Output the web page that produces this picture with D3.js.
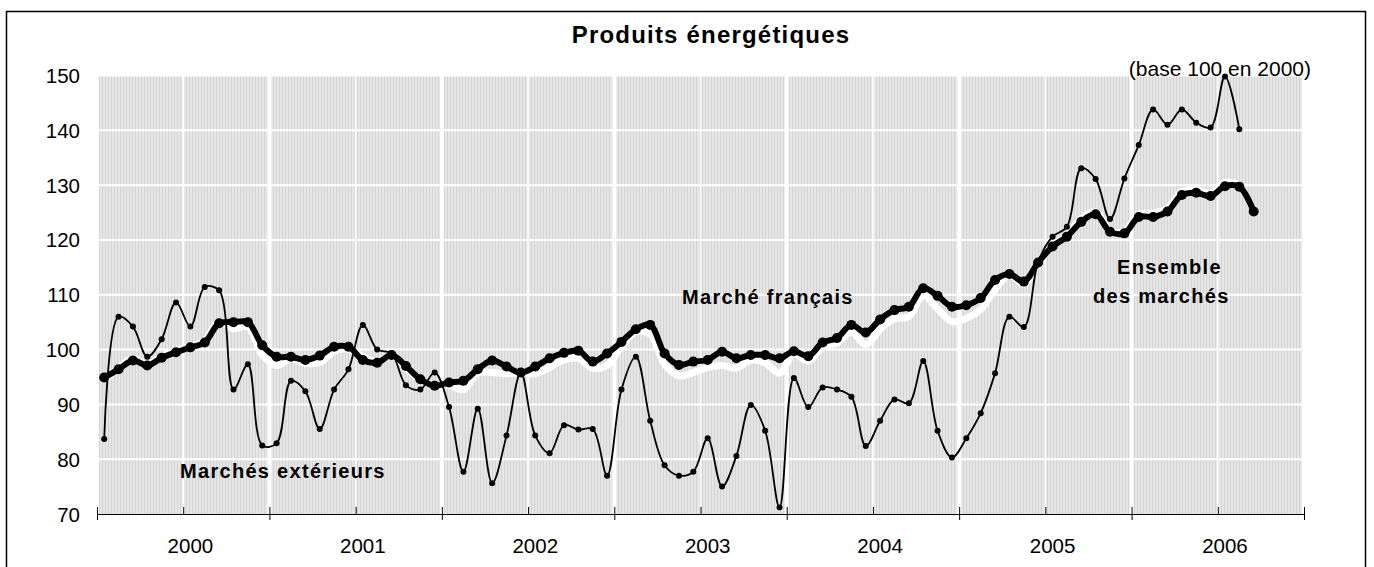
<!DOCTYPE html>
<html>
<head>
<meta charset="UTF-8">
<title>Produits énergétiques</title>
<style>
  body { margin: 0; background: #fff; }
  svg text { font-family: "Liberation Sans", Arial, sans-serif; fill: #000; }
</style>
</head>
<body>
<div id="chart"></div>
<script src="https://d3js.org/d3.v7.min.js"></script>
<script>
// years on the category axis (12 monthly points each, Jan 2000 -> ...)
var years = ["2000", "2001", "2002", "2003", "2004", "2005", "2006"];
var yTicks = [70, 80, 90, 100, 110, 120, 130, 140, 150];

// thin line with small dots
var marchesExterieurs = [
  83.7, 106.0, 104.2, 98.7, 101.9, 108.6, 104.2, 111.4, 110.8, 92.7,
  97.3, 82.5, 82.9, 94.3, 92.4, 85.5, 92.7, 96.4, 104.5, 100.0,
  99.3, 93.5, 92.7, 95.8, 89.5, 77.7, 89.2, 75.6, 84.3, 95.8,
  84.3, 81.1, 86.2, 85.4, 85.5, 77.0, 92.7, 98.7, 87.0, 78.9,
  77.0, 77.7, 83.8, 75.0, 80.6, 89.9, 85.2, 71.2, 94.8, 89.5,
  93.1, 92.7, 91.4, 82.4, 87.0, 90.9, 90.2, 97.9, 85.2, 80.3,
  83.8, 88.4, 95.7, 106.0, 104.1, 116.0, 120.6, 122.4, 133.1, 131.1,
  123.8, 131.2, 137.3, 143.8, 141.0, 143.8, 141.4, 140.5, 149.8, 140.2
];
// thick black line with big dots
var marcheFrancais = [
  94.9, 96.4, 98.0, 97.1, 98.5, 99.5, 100.4, 101.3, 104.8, 105.0,
  105.0, 100.8, 98.7, 98.7, 98.1, 98.9, 100.5, 100.5, 98.1, 97.6,
  99.0, 97.0, 94.6, 93.4, 94.0, 94.3, 96.4, 98.0, 96.9, 95.8,
  96.9, 98.4, 99.4, 99.8, 97.8, 99.3, 101.4, 103.7, 104.5, 99.3,
  97.2, 97.8, 98.1, 99.6, 98.4, 99.0, 99.0, 98.4, 99.7, 98.8,
  101.3, 102.1, 104.5, 103.1, 105.5, 107.2, 107.8, 111.2, 109.8, 107.8,
  108.1, 109.4, 112.7, 113.8, 112.4, 115.9, 118.8, 120.6, 123.3, 124.7,
  121.5, 121.2, 124.2, 124.2, 125.2, 128.2, 128.6, 128.0, 129.8, 129.7,
  125.2
];
// thick white line
var ensembleMarches = [
  94.3, 96.7, 98.4, 97.3, 98.7, 99.9, 100.6, 101.7, 105.1, 103.8,
  104.2, 99.0, 97.1, 98.3, 97.5, 97.6, 99.7, 100.1, 98.7, 97.8,
  99.0, 96.6, 94.5, 93.4, 93.5, 92.7, 95.7, 95.8, 95.6, 95.8,
  95.6, 96.7, 98.1, 98.4, 96.6, 97.1, 100.5, 103.2, 102.8, 97.3,
  95.2, 95.8, 96.7, 97.1, 96.6, 98.1, 97.6, 95.7, 99.2, 97.9,
  100.5, 101.2, 103.2, 100.9, 103.7, 105.6, 106.0, 109.8, 107.4, 105.1,
  105.7, 107.3, 111.0, 113.6, 112.0, 115.9, 119.0, 120.8, 123.9, 125.1,
  121.7, 121.6, 124.7, 124.9, 125.8, 128.8, 129.1, 128.5, 130.5, 130.1
];

var width = 1374, height = 567;
var plot = { left: 97, right: 1304, top: 75.5, bottom: 514 };
var nMonths = years.length * 12;

var svg = d3.select("#chart").append("svg")
  .attr("width", width)
  .attr("height", height);

var x = d3.scaleLinear().domain([0, nMonths]).range([plot.left, plot.right]);
var y = d3.scaleLinear().domain([70, 150]).range([plot.bottom, plot.top]);

// monthly point sits in the middle of its category slot
var px = function(d, i) { return x(i + 0.5); };
var py = function(d) { return y(d); };

// hatched grey background
var defs = svg.append("defs");
var pat = defs.append("pattern")
  .attr("id", "hatch")
  .attr("patternUnits", "userSpaceOnUse")
  .attr("width", 3).attr("height", 6);
pat.append("rect").attr("width", 3).attr("height", 6).attr("fill", "#e6e6e6");
pat.append("rect").attr("width", 1).attr("height", 6).attr("fill", "#d3d3d3");

// frame
svg.append("rect")
  .attr("x", 6.5).attr("y", 11.5)
  .attr("width", 1359).attr("height", 560)
  .attr("fill", "none").attr("stroke", "#000").attr("stroke-width", 1.5);

svg.append("rect")
  .attr("x", plot.left).attr("y", plot.top)
  .attr("width", plot.right - plot.left).attr("height", plot.bottom - plot.top)
  .attr("fill", "url(#hatch)");

// white grid
svg.append("g").selectAll("line")
  .data(yTicks.slice(1))
  .join("line")
  .attr("x1", plot.left).attr("x2", plot.right)
  .attr("y1", y).attr("y2", y)
  .attr("stroke", "#fff").attr("stroke-width", 2);

svg.append("g").selectAll("line")
  .data(d3.range(6, nMonths, 12))
  .join("line")
  .attr("x1", x).attr("x2", x)
  .attr("y1", plot.top).attr("y2", plot.bottom)
  .attr("stroke", "#fff").attr("stroke-width", 1.6);

svg.append("g").selectAll("line")
  .data(d3.range(0, nMonths + 1, 12))
  .join("line")
  .attr("x1", x).attr("x2", x)
  .attr("y1", plot.top).attr("y2", plot.bottom)
  .attr("stroke", "#fff").attr("stroke-width", 4);

// x axis: long ticks at years, short inner ticks at half-years
var xMajor = svg.append("g")
  .attr("transform", "translate(0," + plot.bottom + ")")
  .call(d3.axisBottom(x).tickValues(d3.range(0, nMonths + 1, 12)).tickSize(6).tickFormat("").tickSizeOuter(0));
xMajor.selectAll(".tick line").attr("y1", -7).attr("stroke", "#000");
xMajor.select(".domain").attr("stroke", "#000").attr("stroke-width", 1.2);

svg.append("g")
  .attr("transform", "translate(0," + plot.bottom + ")")
  .call(d3.axisBottom(x).tickValues(d3.range(6, nMonths, 12)).tickSize(-7).tickFormat("").tickSizeOuter(0))
  .call(function(g) { g.select(".domain").remove(); })
  .selectAll(".tick line").attr("stroke", "#000");

svg.append("g").selectAll("text")
  .data(years)
  .join("text")
  .attr("x", function(d, i) { return x(i * 12 + 6.5); })
  .attr("y", 552.5)
  .attr("text-anchor", "middle")
  .style("font-size", "20.5px")
  .text(function(d) { return d; });

// y labels, no axis line
svg.append("g").selectAll("text")
  .data(yTicks)
  .join("text")
  .attr("x", 80)
  .attr("y", function(d) { return y(d) + 7.5; })
  .attr("text-anchor", "end")
  .style("font-size", "20.5px")
  .text(function(d) { return d; });

// series
var smooth = d3.line().x(px).y(py).curve(d3.curveCatmullRom.alpha(0.5));

svg.append("path")
  .datum(ensembleMarches)
  .attr("fill", "none").attr("stroke", "#fff")
  .attr("stroke-width", 7).attr("stroke-linejoin", "round")
  .attr("d", smooth);

svg.append("path")
  .datum(marcheFrancais)
  .attr("fill", "none").attr("stroke", "#000")
  .attr("stroke-width", 6).attr("stroke-linejoin", "round")
  .attr("d", smooth);

svg.append("g").selectAll("circle")
  .data(marcheFrancais)
  .join("circle")
  .attr("cx", px).attr("cy", py).attr("r", 5)
  .attr("fill", "#000");

svg.append("path")
  .datum(marchesExterieurs)
  .attr("fill", "none").attr("stroke", "#000")
  .attr("stroke-width", 1.8).attr("stroke-linejoin", "round")
  .attr("d", smooth);

svg.append("g").selectAll("circle")
  .data(marchesExterieurs)
  .join("circle")
  .attr("cx", px).attr("cy", py).attr("r", 3)
  .attr("fill", "#000");

// titles and labels
svg.append("text")
  .attr("x", 711).attr("y", 43)
  .attr("text-anchor", "middle")
  .style("font-size", "24px").style("font-weight", "bold")
  .style("letter-spacing", "1.2px")
  .text("Produits énergétiques");

svg.append("text")
  .attr("x", 1311).attr("y", 76)
  .attr("text-anchor", "end")
  .style("font-size", "21px")
  .text("(base 100 en 2000)");

var labels = [
  { t: "Marchés extérieurs", x: 180, y: 478 },
  { t: "Marché français", x: 682, y: 304 },
  { t: "Ensemble", x: 1117, y: 274 },
  { t: "des marchés", x: 1093, y: 303 }
];
svg.append("g").selectAll("text")
  .data(labels)
  .join("text")
  .attr("x", function(d) { return d.x; })
  .attr("y", function(d) { return d.y; })
  .style("font-size", "20px").style("font-weight", "bold")
  .style("letter-spacing", "1.3px")
  .text(function(d) { return d.t; });
</script>
</body>
</html>
